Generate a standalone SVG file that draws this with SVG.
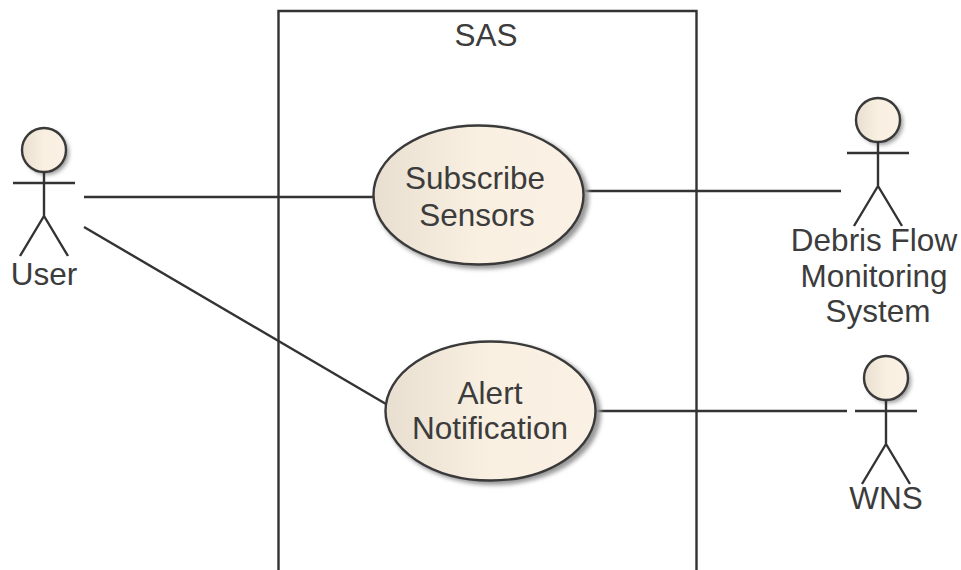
<svg xmlns="http://www.w3.org/2000/svg" width="961" height="570" viewBox="0 0 961 570">
<style>
text{font-family:"Liberation Sans",Arial,sans-serif;font-size:31.500px;fill:#3c3c3c;text-anchor:middle}
.l{fill:none;stroke:#333;stroke-width:2.400}
.shape{stroke:#3a3a3a;stroke-width:2.400}
</style>
<defs>
<linearGradient id="g" x1="0" x2="1" y1="0" y2="0"><stop offset="0" stop-color="#e8dfd0"/><stop offset="0.5" stop-color="#f9f0e2"/><stop offset="1" stop-color="#faf1e4"/></linearGradient>
<filter id="s" x="-20%" y="-20%" width="150%" height="150%"><feGaussianBlur stdDeviation="2"/></filter>
<g id="actor">
<circle cx="3" cy="3" r="22" fill="#999" filter="url(#s)"/>
<circle r="22" fill="url(#g)" class="shape"/>
<path class="l" d="M0 22V66M-31 33H31M-24 106L0 66L24 106"/>
</g>
</defs>
<rect width="961" height="570" fill="#fff"/>
<g id="system"><path class="l" d="M278.500 570V11H696.500V570"/><text x="486" y="46">SAS</text></g>
<g id="connectors" class="l">
<line x1="84" y1="197" x2="373" y2="197"/>
<line x1="84" y1="227" x2="386" y2="404"/>
<line x1="584" y1="191" x2="841" y2="191"/>
<line x1="596" y1="411" x2="847" y2="411"/>
</g>
<g id="user"><use href="#actor" x="44" y="150"/><text x="44" y="285">User</text></g>
<g id="subscribe"><ellipse cx="482" cy="198" rx="107" ry="71" fill="#999" filter="url(#s)"/><ellipse cx="478.500" cy="195" rx="105" ry="69.500" fill="url(#g)" class="shape"/><text x="475" y="189">Subscribe</text><text x="477" y="226">Sensors</text></g>
<g id="alert"><ellipse cx="494" cy="414" rx="107" ry="71" fill="#999" filter="url(#s)"/><ellipse cx="490.500" cy="411" rx="105" ry="69.500" fill="url(#g)" class="shape"/><text x="490" y="404">Alert</text><text x="490" y="439">Notification</text></g>
<g id="debris"><use href="#actor" x="878" y="120"/><text x="874" y="251">Debris Flow</text><text x="874" y="287">Monitoring</text><text x="878" y="322">System</text></g>
<g id="wns"><use href="#actor" x="886" y="378"/><text x="886" y="509">WNS</text></g>
</svg>
